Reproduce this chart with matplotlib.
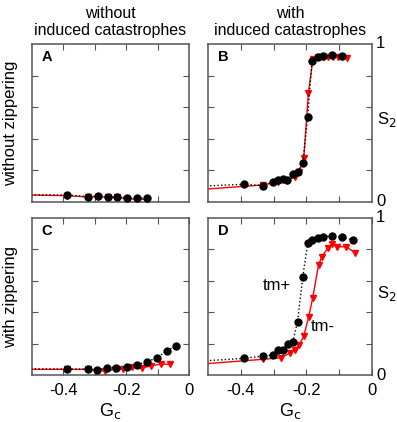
import numpy as np
import matplotlib
matplotlib.use("Agg")
import matplotlib.pyplot as plt

plt.rcParams["font.family"] = ["Liberation Sans", "DejaVu Sans"]

# --- data (Gc, S2) ---
# A: without induced catastrophes, without zippering
a_tp_x = [-0.55, -0.387, -0.323, -0.291, -0.259, -0.229, -0.197, -0.165, -0.134]
a_tp_y = [0.046, 0.044, 0.034, 0.038, 0.034, 0.034, 0.027, 0.027, 0.023]
a_tm_x = [-0.55, -0.387, -0.323, -0.291, -0.259, -0.229, -0.197, -0.165, -0.134]
a_tm_y = [0.046, 0.040, 0.032, 0.033, 0.030, 0.030, 0.020, 0.018, 0.016]

# B: with induced catastrophes, without zippering
b_tp_x = [-0.55, -0.391, -0.332, -0.302, -0.287, -0.271, -0.258, -0.242, -0.227,
          -0.211, -0.196, -0.183, -0.166, -0.150, -0.122, -0.091]
b_tp_y = [0.098, 0.112, 0.104, 0.127, 0.137, 0.148, 0.142, 0.180, 0.188,
          0.247, 0.539, 0.894, 0.915, 0.925, 0.928, 0.925]
b_tm_x = [-0.55, -0.332, -0.287, -0.258, -0.236, -0.222, -0.208, -0.194, -0.180,
          -0.166, -0.150, -0.135, -0.120, -0.105, -0.091, -0.077]
b_tm_y = [0.075, 0.108, 0.125, 0.135, 0.160, 0.190, 0.277, 0.688, 0.905,
          0.915, 0.918, 0.918, 0.918, 0.918, 0.915, 0.912]

# C: without induced catastrophes, with zippering
c_tp_x = [-0.55, -0.387, -0.323, -0.292, -0.260, -0.231, -0.199, -0.167, -0.135,
          -0.103, -0.071, -0.041]
c_tp_y = [0.040, 0.038, 0.038, 0.034, 0.045, 0.045, 0.053, 0.066, 0.083,
          0.110, 0.153, 0.187]
c_tm_x = [-0.55, -0.387, -0.323, -0.269, -0.237, -0.210, -0.180, -0.150, -0.120,
          -0.088, -0.059]
c_tm_y = [0.036, 0.036, 0.036, 0.025, 0.036, 0.036, 0.049, 0.043, 0.059,
          0.070, 0.068]

# D: with induced catastrophes, with zippering
d_tp_x = [-0.55, -0.391, -0.332, -0.302, -0.287, -0.271, -0.256, -0.242, -0.227,
          -0.211, -0.196, -0.183, -0.166, -0.150, -0.122, -0.091, -0.058]
d_tp_y = [0.085, 0.106, 0.121, 0.127, 0.159, 0.157, 0.195, 0.208, 0.340,
          0.626, 0.839, 0.860, 0.875, 0.881, 0.885, 0.877, 0.860]
d_tm_x = [-0.55, -0.332, -0.277, -0.249, -0.236, -0.222, -0.208, -0.193, -0.181,
          -0.163, -0.153, -0.135, -0.122, -0.107, -0.079, -0.051]
d_tm_y = [0.065, 0.100, 0.110, 0.142, 0.159, 0.191, 0.248, 0.371, 0.488,
          0.701, 0.754, 0.807, 0.832, 0.817, 0.817, 0.779]

panels = [
    ("A", a_tp_x, a_tp_y, a_tm_x, a_tm_y),
    ("B", b_tp_x, b_tp_y, b_tm_x, b_tm_y),
    ("C", c_tp_x, c_tp_y, c_tm_x, c_tm_y),
    ("D", d_tp_x, d_tp_y, d_tm_x, d_tm_y),
]

W, H = 397, 422
fig = plt.figure(figsize=(W / 100, H / 100), dpi=100)

# pixel boxes (left, top, right, bottom)
boxes = [(32, 44, 189, 202), (208, 44, 372, 202),
         (32, 218, 189, 375), (208, 218, 372, 375)]

frame_col = "#555555"
axes = []
for (lab, tpx, tpy, tmx, tmy), (l, t, r, b) in zip(panels, boxes):
    ax = fig.add_axes([l / W, 1 - b / H, (r - l) / W, (b - t) / H])
    ax.plot(tmx, tmy, "-", color="red", lw=1.0, marker="v", ms=4,
            mec="red", mfc="red", zorder=2)
    ax.plot(tpx, tpy, ":", color="black", lw=1.0, marker="o", ms=5,
            mec="black", mfc="black", zorder=3)
    ax.set_xlim(-0.5, 0)
    ax.set_ylim(0, 1)
    ax.set_xticks([-0.4, -0.3, -0.2, -0.1])
    ax.set_yticks([0.2, 0.4, 0.6, 0.8])
    ax.tick_params(direction="in", length=4, width=0.8, color=frame_col,
                   top=True, right=True, labelbottom=False, labelleft=False)
    for s in ax.spines.values():
        s.set_color(frame_col)
        s.set_linewidth(1.1)
    ax.text(0.06, 0.92, lab, transform=ax.transAxes, fontsize=10.5,
            fontweight="bold", ha="left", va="center")
    axes.append(ax)

# x labels under bottom row
for ax in axes[2:]:
    ax.set_xticks([-0.4, -0.3, -0.2, -0.1, 0])
    ax.set_xticklabels(["-0.4", "", "-0.2", "", "0"])
    ax.tick_params(labelbottom=True, labelsize=12, pad=6)
    ax.set_xlabel("G$_\\mathrm{c}$", fontsize=13, labelpad=2)

# 0 / 1 labels on right side of right column
for ax in (axes[1], axes[3]):
    ax.text(1.025, 1.0, "1", transform=ax.transAxes, fontsize=12,
            ha="left", va="center")
    ax.text(1.025, 0.0, "0", transform=ax.transAxes, fontsize=12,
            ha="left", va="center")
    ax.text(1.028, 0.52, "S$_2$", transform=ax.transAxes, fontsize=12,
            ha="left", va="center")

# column headers
fig.text(110 / W, 1 - 13 / H, "without", fontsize=11.5, ha="center", va="center")
fig.text(110 / W, 1 - 31 / H, "induced catastrophes", fontsize=11.5,
         ha="center", va="center")
fig.text(290 / W, 1 - 13 / H, "with", fontsize=11.5, ha="center", va="center")
fig.text(290 / W, 1 - 31 / H, "induced catastrophes", fontsize=11.5,
         ha="center", va="center")

# row labels
fig.text(11 / W, 1 - 123 / H, "without zippering", fontsize=12, rotation=90,
         ha="center", va="center")
fig.text(11 / W, 1 - 297 / H, "with zippering", fontsize=12, rotation=90,
         ha="center", va="center")

# curve labels in D
axes[3].text(-0.29, 0.57, "tm+", fontsize=12, ha="center", va="center")
axes[3].text(-0.15, 0.31, "tm-", fontsize=12, ha="center", va="center")

fig.savefig("out.png", dpi=100)
